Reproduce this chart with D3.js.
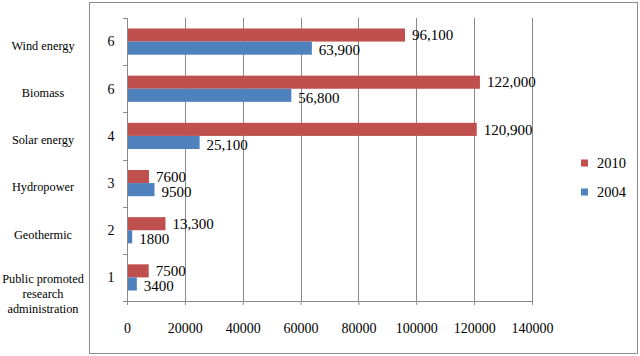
<!DOCTYPE html>
<html>
<head>
<meta charset="utf-8">
<script src="https://cdn.jsdelivr.net/npm/d3@7"></script>
<style>
  body { margin: 0; background: #fff; }
</style>
</head>
<body>
<div id="chart"></div>
<script>
// categories from top to bottom
var categories = ["Wind energy", "Biomass", "Solar energy", "Hydropower", "Geothermic",
                  "Public promoted\nresearch\nadministration"];
var counts = [6, 6, 4, 3, 2, 1];
var series = ["2010", "2004"];
var values2010 = [96100, 122000, 120900, 7600, 13300, 7500];
var values2004 = [63900, 56800, 25100, 9500, 1800, 3400];
var labels2010 = ["96,100", "122,000", "120,900", "7600", "13,300", "7500"];
var labels2004 = ["63,900", "56,800", "25,100", "9500", "1800", "3400"];
var xTicks = [0, 20000, 40000, 60000, 80000, 100000, 120000, 140000];

var colors = {"2010": "#c0504d", "2004": "#4f81bd"};
var FONT = "Liberation Serif";

var W = 640, H = 356;
var margin = {top: 18, left: 127, right: 108, bottom: 55},
    width = W - margin.left - margin.right,
    height = H - margin.top - margin.bottom;

var svg = d3.select("#chart").append("svg")
  .attr("width", W)
  .attr("height", H)
  .style("font-family", FONT);

// outer chart border
svg.append("rect")
  .attr("x", 89.5).attr("y", 2.5)
  .attr("width", 548).attr("height", 351)
  .attr("fill", "none")
  .attr("stroke", "#8c8c8c");

var g = svg.append("g")
  .attr("transform", "translate(" + margin.left + "," + margin.top + ")");

var x = d3.scaleLinear().domain([0, 140000]).range([0, width]);
var y = d3.scaleBand().domain(d3.range(categories.length)).range([0, height]);
var ySub = d3.scaleBand().domain(series).range([0, y.bandwidth()])
  .paddingInner(0).paddingOuter(0.8);

// gridlines
g.selectAll(".grid").data(xTicks.slice(1))
  .enter().append("line")
  .attr("class", "grid")
  .attr("x1", function(d) {return Math.round(x(d)) + 0.5;})
  .attr("x2", function(d) {return Math.round(x(d)) + 0.5;})
  .attr("y1", 0).attr("y2", height)
  .attr("stroke", "#8a8a8a");

// x axis
var xAxis = d3.axisBottom(x)
  .tickValues(xTicks)
  .tickFormat(d3.format("d"))
  .tickSizeInner(4)
  .tickSizeOuter(0)
  .tickPadding(18);
var gx = g.append("g")
  .attr("transform", "translate(0," + height + ")")
  .call(xAxis);
gx.select(".domain").attr("stroke", "#8a8a8a");
gx.selectAll(".tick line").attr("stroke", "#8a8a8a");
gx.selectAll("text")
  .style("font-family", FONT)
  .style("font-size", "14px")
  .style("fill", "#000");

// y axis line with ticks at band boundaries
g.append("line")
  .attr("x1", 0.5).attr("x2", 0.5).attr("y1", 0).attr("y2", height)
  .attr("stroke", "#8a8a8a");
g.selectAll(".ytick").data(d3.range(categories.length + 1))
  .enter().append("line")
  .attr("class", "ytick")
  .attr("x1", -4).attr("x2", 0)
  .attr("y1", function(i) {return Math.round(i * y.step()) + 0.5;})
  .attr("y2", function(i) {return Math.round(i * y.step()) + 0.5;})
  .attr("stroke", "#8a8a8a");

// bars
var rows = categories.map(function(c, i) {
  return {i: i, vals: [
    {s: "2010", v: values2010[i], label: labels2010[i]},
    {s: "2004", v: values2004[i], label: labels2004[i]}
  ]};
});

var rowG = g.selectAll(".row").data(rows)
  .enter().append("g")
  .attr("class", "row")
  .attr("transform", function(d) {return "translate(0," + y(d.i) + ")";});

rowG.selectAll("rect").data(function(d) {return d.vals;})
  .enter().append("rect")
  .attr("x", 1)
  .attr("y", function(d) {return ySub(d.s);})
  .attr("width", function(d) {return x(d.v) - 1;})
  .attr("height", ySub.bandwidth())
  .attr("fill", function(d) {return colors[d.s];});

rowG.selectAll(".vlabel").data(function(d) {return d.vals;})
  .enter().append("text")
  .attr("class", "vlabel")
  .attr("x", function(d) {return x(d.v) + 7;})
  .attr("y", function(d) {return ySub(d.s) + ySub.bandwidth() / 2 + (d.s == "2004" ? 2 : 0);})
  .attr("dy", "0.35em")
  .style("font-family", FONT)
  .style("font-size", "15px")
  .style("fill", "#000")
  .text(function(d) {return d.label;});

// second level numbers
g.selectAll(".count").data(counts)
  .enter().append("text")
  .attr("class", "count")
  .attr("x", -16)
  .attr("y", function(d, i) {return y(i) + y.bandwidth() / 2;})
  .attr("dy", "0.35em")
  .attr("text-anchor", "middle")
  .style("font-family", FONT)
  .style("font-size", "14px")
  .style("fill", "#000")
  .text(function(d) {return d;});

// category labels
var cat = g.selectAll(".cat").data(categories)
  .enter().append("text")
  .attr("class", "cat")
  .attr("text-anchor", "middle")
  .style("font-family", FONT)
  .style("font-size", "12.3px")
  .style("fill", "#000")
  .attr("transform", function(d, i) {
    var lines = d.split("\n").length;
    var cy = y(i) + y.bandwidth() / 2 + (lines > 1 ? 1 : 4);
    return "translate(" + (43 - margin.left) + "," + cy + ")";
  });
cat.selectAll("tspan").data(function(d) {return d.split("\n");})
  .enter().append("tspan")
  .attr("x", 0)
  .attr("y", function(d, j) {return j * 15;})
  .attr("dy", "0.35em")
  .text(function(d) {return d;});

// legend
var legend = svg.selectAll(".legend").data(series)
  .enter().append("g")
  .attr("class", "legend")
  .attr("transform", function(d, i) {return "translate(581," + (163 + i * 29) + ")";});
legend.append("rect")
  .attr("x", 0).attr("y", -3.5)
  .attr("width", 7).attr("height", 7)
  .attr("fill", function(d) {return colors[d];});
legend.append("text")
  .attr("x", 16).attr("y", 0)
  .attr("dy", "0.35em")
  .style("font-family", FONT)
  .style("font-size", "14.5px")
  .style("fill", "#000")
  .text(function(d) {return d;});
</script>
</body>
</html>
